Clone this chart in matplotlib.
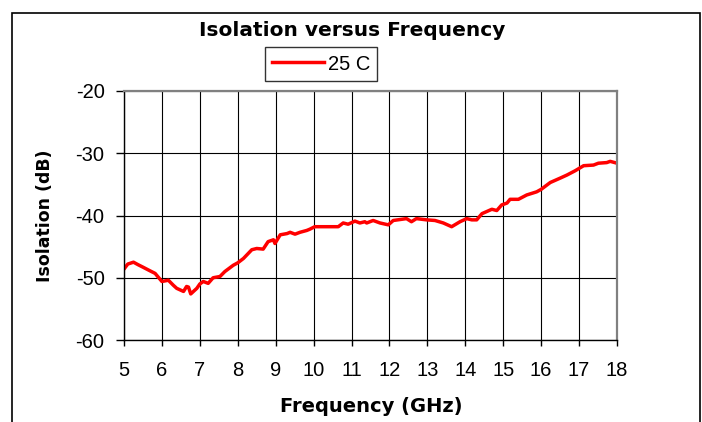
#!/usr/bin/env python3
"""Isolation versus Frequency - 25 C"""

import matplotlib
matplotlib.use("Agg")
import matplotlib.pyplot as plt
from matplotlib.patches import Rectangle

plt.rcParams['font.family'] = ['Liberation Sans', 'DejaVu Sans']
plt.rcParams['axes.unicode_minus'] = False

# dati
freq_ghz = [5.0, 5.1, 5.25, 5.37, 5.5, 5.69, 5.82, 6.0, 6.17, 6.3, 6.39, 6.57,
            6.65, 6.7, 6.76, 6.92, 7.0, 7.09, 7.22, 7.35, 7.53, 7.66, 7.88, 8.0,
            8.15, 8.37, 8.5, 8.67, 8.8, 8.94, 8.98, 9.12, 9.3, 9.38, 9.51, 9.64,
            9.82, 9.9, 10.03, 10.65, 10.78, 10.91, 11.09, 11.22, 11.35, 11.4,
            11.57, 11.75, 11.97, 12.1, 12.45, 12.58, 12.71, 12.98, 13.2, 13.42,
            13.64, 13.86, 14.04, 14.17, 14.3, 14.44, 14.7, 14.83, 14.96, 15.1,
            15.18, 15.4, 15.62, 15.88, 16.0, 16.24, 16.5, 16.68, 16.9, 17.12,
            17.38, 17.51, 17.73, 17.82, 18.0]
isolation_db = [-48.6, -47.8, -47.5, -47.9, -48.3, -48.9, -49.3, -50.6, -50.4,
                -51.2, -51.7, -52.2, -51.4, -51.5, -52.6, -51.7, -51.0, -50.6,
                -50.9, -50.0, -49.8, -49.0, -48.0, -47.6, -46.9, -45.5, -45.3,
                -45.4, -44.2, -43.9, -44.5, -43.1, -42.9, -42.7, -43.0, -42.7,
                -42.4, -42.2, -41.8, -41.8, -41.2, -41.4, -40.9, -41.2, -41.0,
                -41.2, -40.8, -41.2, -41.5, -40.8, -40.5, -41.0, -40.5, -40.7,
                -40.8, -41.2, -41.8, -41.0, -40.5, -40.7, -40.7, -39.7, -39.0,
                -39.2, -38.3, -38.0, -37.4, -37.4, -36.7, -36.2, -35.8, -34.7,
                -34.0, -33.5, -32.8, -32.0, -31.9, -31.6, -31.5, -31.3, -31.6]

x_ticks = list(range(5, 19))
y_ticks = [-60, -50, -40, -30, -20]

W, H = 702, 422
fig = plt.figure(figsize=(W / 100, H / 100), dpi=100)

# cornice esterna (il bordo inferiore esce dall'immagine)
fig.patches.append(Rectangle((12 / W, -0.1), (700 - 12) / W, 1.1 - 13 / H,
                             transform=fig.transFigure, fill=False,
                             edgecolor='black', linewidth=1.2))

ax = fig.add_axes([124 / W, 1 - 340 / H, (617 - 124) / W, (340 - 91) / H])
ax.plot(freq_ghz, isolation_db, color='#ff0000', linewidth=2.5, label='25 C')

ax.set_xlim(5, 18)
ax.set_ylim(-60, -20)
ax.set_xticks(x_ticks)
ax.set_yticks(y_ticks)
ax.grid(True, color='black', linewidth=0.8)
ax.set_axisbelow(True)

for side in ['top', 'right']:
    ax.spines[side].set_color('#808080')
    ax.spines[side].set_linewidth(1.6)
for side in ['left', 'bottom']:
    ax.spines[side].set_color('black')
    ax.spines[side].set_linewidth(1.0)

ax.tick_params(axis='y', length=6, width=1, pad=8, labelsize=14.5, direction='out')
ax.tick_params(axis='x', length=4, width=1, pad=11, labelsize=14.5, direction='out')

# titoli: DejaVu Sans Bold e' piu' largo, simile alla spaziatura dell'originale
bold_font = dict(family='DejaVu Sans', fontweight='bold')
fig.text(371 / W, 1 - 407 / H, 'Frequency (GHz)', ha='center', va='center',
         fontsize=14, **bold_font)
fig.text(45 / W, 1 - 216 / H, 'Isolation (dB)', ha='center', va='center',
         rotation=90, fontsize=12.5, **bold_font)
fig.text(352 / W, 1 - 31 / H, 'Isolation versus Frequency', ha='center', va='center',
         fontsize=14.5, **bold_font)

leg = ax.legend(loc='center', bbox_to_anchor=((321 - 124) / (617 - 124), (340 - 64) / (340 - 91)),
                frameon=True, fancybox=False, edgecolor='black', fontsize=14.5,
                handlelength=2.6, handletextpad=0.2, borderpad=0.35)
leg.get_frame().set_linewidth(1.0)

fig.savefig('out.png', dpi=100)
